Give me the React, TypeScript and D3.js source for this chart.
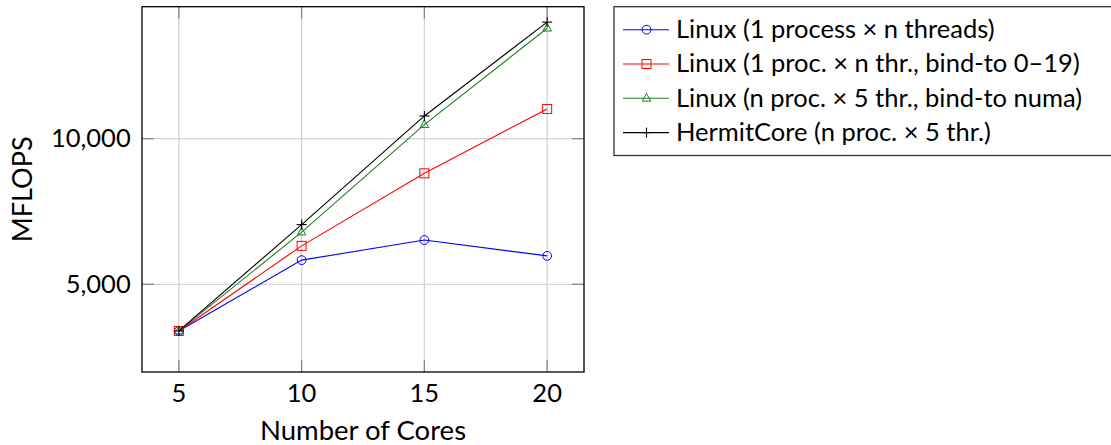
import React from "react";
import * as d3 from "d3";

const cores = [5, 10, 15, 20];
const linuxThreads = [3400, 5830, 6520, 5975];
const linuxBind = [3400, 6320, 8810, 11020];
const linuxNuma = [3400, 6790, 10480, 13790];
const hermit = [3400, 7050, 10780, 14000];
const xTicks = [5, 10, 15, 20];
const yTicks = [5000, 10000];
const seriesNames = [
  "Linux (1 process \u00d7 n threads)",
  "Linux (1 proc. \u00d7 n thr., bind-to 0\u201319)",
  "Linux (n proc. \u00d7 5 thr., bind-to numa)",
  "HermitCore (n proc. \u00d7 5 thr.)",
];

const W = 1111, H = 445;
const L = 142, R = 584, T = 6.7, B = 372;
const FONT = "Lato, 'DejaVu Sans', sans-serif";

const series = [
  { name: seriesNames[0], values: linuxThreads, color: "#0000ff", mark: "circle" },
  { name: seriesNames[1], values: linuxBind, color: "#ff0000", mark: "square" },
  { name: seriesNames[2], values: linuxNuma, color: "#1f7f1f", mark: "triangle" },
  { name: seriesNames[3], values: hermit, color: "#000000", mark: "plus" },
];

function Marker({ type, x, y, color }: { type: string; x: number; y: number; color: string }) {
  if (type === "circle") return <circle cx={x} cy={y} r={4.4} fill="none" stroke={color} strokeWidth={1} />;
  if (type === "square") return <rect x={x - 4.5} y={y - 4.5} width={9} height={9} fill="none" stroke={color} strokeWidth={1} />;
  if (type === "triangle") {
    const p = `${x},${y - 4.8} ${x - 4.3},${y + 2.8} ${x + 4.3},${y + 2.8}`;
    return <polygon points={p} fill="none" stroke={color} strokeWidth={1} />;
  }
  return (
    <g stroke={color} strokeWidth={1.1}>
      <line x1={x - 5} x2={x + 5} y1={y} y2={y} />
      <line x1={x} x2={x} y1={y - 5} y2={y + 5} />
    </g>
  );
}

export default function App() {
  const x = d3.scaleLinear().domain([3.5, 21.5]).range([L, R]);
  const y = d3.scaleLinear().domain([1990, 14530]).range([B, T]);
  const line = d3.line<number>().x((_, i) => x(cores[i])).y((d) => y(d));
  const fmt = d3.format(",");
  const legX = 614, legY = 6.7, rowH = 34.3, row0 = 29.7;

  return (
    <svg width={W} height={H} style={{ position: "absolute", left: 0, top: 0, background: "#fff" }}>
      {/* grid */}
      {xTicks.map((t) => (
        <line key={"gx" + t} x1={x(t)} x2={x(t)} y1={T} y2={B} stroke="#d3d3d3" strokeWidth={1.3} />
      ))}
      {yTicks.map((t) => (
        <line key={"gy" + t} x1={L} x2={R} y1={y(t)} y2={y(t)} stroke="#d3d3d3" strokeWidth={1.3} />
      ))}
      {/* tick marks */}
      {xTicks.map((t) => (
        <g key={"tx" + t} stroke="#8a8a8a" strokeWidth={1.3}>
          <line x1={x(t)} x2={x(t)} y1={T} y2={T + 12} />
          <line x1={x(t)} x2={x(t)} y1={B} y2={B - 12} />
        </g>
      ))}
      {yTicks.map((t) => (
        <g key={"ty" + t} stroke="#8a8a8a" strokeWidth={1.3}>
          <line x1={L} x2={L + 12} y1={y(t)} y2={y(t)} />
          <line x1={R} x2={R - 12} y1={y(t)} y2={y(t)} />
        </g>
      ))}
      {/* series */}
      {series.map((s) => (
        <g key={s.name}>
          <path d={line(s.values) || ""} fill="none" stroke={s.color} strokeWidth={1.1} />
          {s.values.map((v, i) => (
            <Marker key={i} type={s.mark} x={x(cores[i])} y={y(v)} color={s.color} />
          ))}
        </g>
      ))}
      {/* frame */}
      <rect x={L} y={T} width={R - L} height={B - T} fill="none" stroke="#000" strokeWidth={1.3} />
      {/* tick labels */}
      {xTicks.map((t) => (
        <text key={"lx" + t} x={x(t)} y={402.3} textAnchor="middle" fontFamily={FONT} fontSize={25.5} fill="#000">
          {t}
        </text>
      ))}
      {yTicks.map((t) => (
        <text key={"ly" + t} x={130.7} y={y(t) + 8.6} textAnchor="end" fontFamily={FONT} fontSize={25.5} fill="#000">
          {fmt(t)}
        </text>
      ))}
      <text x={(L + R) / 2} y={440} textAnchor="middle" fontFamily={FONT} fontSize={27.5} fill="#000">
        Number of Cores
      </text>
      <text transform={`translate(31.5,${(T + B) / 2}) rotate(-90)`} textAnchor="middle" fontFamily={FONT} fontSize={27} fill="#000">
        MFLOPS
      </text>
      {/* legend */}
      <rect x={legX} y={legY} width={W - legX + 5} height={155.5 - legY} fill="#fff" stroke="#333" strokeWidth={1.3} />
      {series.map((s, i) => {
        const cy = row0 + i * rowH;
        return (
          <g key={"leg" + i}>
            <line x1={623} x2={669} y1={cy} y2={cy} stroke={s.color} strokeWidth={1.1} />
            <Marker type={s.mark} x={646.5} y={cy} color={s.color} />
            <text x={676} y={cy + 8.3} fontFamily={FONT} fontSize={25.5} fill="#000">
              {s.name}
            </text>
          </g>
        );
      })}
    </svg>
  );
}
